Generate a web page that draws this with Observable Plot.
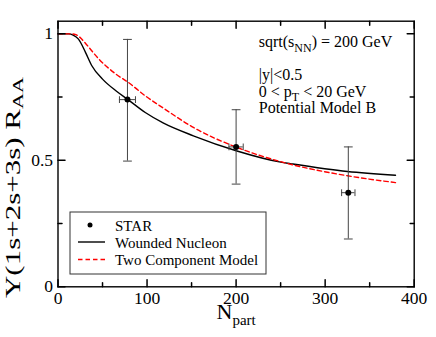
<!DOCTYPE html>
<html><head><meta charset="utf-8">
<script src="https://cdn.jsdelivr.net/npm/d3@7"></script>
<script src="https://cdn.jsdelivr.net/npm/@observablehq/plot@0.6"></script>
<style>html,body{margin:0;padding:0;background:#fff}#chart svg{display:block}</style>
</head><body><div id="chart"></div>
<script>
// STAR data points
const starNpart = [78, 200, 326];
const starRaa = [0.740, 0.553, 0.372];
const starLo = [0.497, 0.406, 0.189];
const starHi = [0.978, 0.700, 0.553];
const starNpartErr = [9, 8, 7.5];

// Wounded Nucleon curve
const wnNpart = [0, 12, 17, 23, 31, 38, 50, 65, 79, 98, 118, 152, 201, 250, 261, 325, 379];
const wnRaa   = [1.0, 1.0, 0.995, 0.979, 0.926, 0.874, 0.821, 0.775, 0.739, 0.689, 0.648, 0.597, 0.537, 0.493, 0.487, 0.456, 0.441];

// Two Component Model curve
const tcNpart = [0, 15, 20, 25, 31, 46, 65, 79, 98, 118, 152, 201, 255, 325, 379];
const tcRaa   = [1.0, 1.0, 0.997, 0.985, 0.962, 0.900, 0.841, 0.808, 0.755, 0.707, 0.630, 0.551, 0.490, 0.439, 0.412];

// Axis ticks
const xMajor = [0, 100, 200, 300, 400];
const xMinor = [50, 150, 250, 350];
const yMajor = [0, 0.5, 1];
const yMinor = [0.25, 0.75];

// Annotation text
const notes = ["sqrt(s_{NN}) = 200 GeV", "|y|<0.5", "0 < p_{T} < 20 GeV", "Potential Model B"];
const noteX = 226;
const noteY = [0.947, 0.814, 0.750, 0.687];

const legendLabels = ["STAR", "Wounded Nucleon", "Two Component Model"];

const star = starNpart.map((n, i) => ({n, r: starRaa[i], lo: starLo[i], hi: starHi[i], e: starNpartErr[i]}));
const wn = wnNpart.map((n, i) => ({n, r: wnRaa[i]}));
const tc = tcNpart.map((n, i) => ({n, r: tcRaa[i]}));

const FONT = "'Liberation Serif','Times New Roman',serif";
const line = {draw(ctx, l) { ctx.moveTo(0, 0); ctx.lineTo(0, -l); }};
const ebColor = "#444";

const chart = Plot.plot({
  width: 436, height: 337,
  marginLeft: 57.5, marginRight: 22.3, marginTop: 20.7, marginBottom: 50.7,
  style: {fontFamily: FONT, background: "#fff", color: "#000"},
  x: {domain: [0, 400], axis: null},
  y: {domain: [0, 1.05], axis: null},
  marks: [
    Plot.line(wn, {x: "n", y: "r", stroke: "#000", strokeWidth: 1.4, curve: "monotone-x"}),
    Plot.line(tc, {x: "n", y: "r", stroke: "#ff0000", strokeWidth: 1.4, strokeDasharray: "4.5,3", curve: "monotone-x"}),
    Plot.ruleX(star, {x: "n", y1: "lo", y2: "hi", stroke: ebColor, strokeWidth: 1}),
    Plot.vector(star, {x: "n", y: "lo", length: 8, rotate: 90, anchor: "middle", shape: line, stroke: ebColor, strokeWidth: 1}),
    Plot.vector(star, {x: "n", y: "hi", length: 8, rotate: 90, anchor: "middle", shape: line, stroke: ebColor, strokeWidth: 1}),
    Plot.ruleY(star, {y: "r", x1: d => d.n - d.e, x2: d => d.n + d.e, stroke: ebColor, strokeWidth: 1}),
    Plot.vector(star, {x: d => d.n - d.e, y: "r", length: 6, rotate: 0, anchor: "middle", shape: line, stroke: ebColor, strokeWidth: 1}),
    Plot.vector(star, {x: d => d.n + d.e, y: "r", length: 6, rotate: 0, anchor: "middle", shape: line, stroke: ebColor, strokeWidth: 1}),
    Plot.dot(star, {x: "n", y: "r", r: 3, fill: "#000", stroke: "none"}),
    // inward ticks on all four sides
    Plot.vector(xMajor, {x: d => d, frameAnchor: "bottom", length: 7, rotate: 0, anchor: "start", shape: line, stroke: "#000"}),
    Plot.vector(xMinor, {x: d => d, frameAnchor: "bottom", length: 4, rotate: 0, anchor: "start", shape: line, stroke: "#000"}),
    Plot.vector(xMajor, {x: d => d, frameAnchor: "top", length: 7, rotate: 180, anchor: "start", shape: line, stroke: "#000"}),
    Plot.vector(xMinor, {x: d => d, frameAnchor: "top", length: 4, rotate: 180, anchor: "start", shape: line, stroke: "#000"}),
    Plot.vector(yMajor, {y: d => d, frameAnchor: "left", length: 7, rotate: 90, anchor: "start", shape: line, stroke: "#000"}),
    Plot.vector(yMinor, {y: d => d, frameAnchor: "left", length: 4, rotate: 90, anchor: "start", shape: line, stroke: "#000"}),
    Plot.vector(yMajor, {y: d => d, frameAnchor: "right", length: 7, rotate: -90, anchor: "start", shape: line, stroke: "#000"}),
    Plot.vector(yMinor, {y: d => d, frameAnchor: "right", length: 4, rotate: -90, anchor: "start", shape: line, stroke: "#000"}),
    Plot.frame({stroke: "#000", strokeWidth: 1.4}),
    Plot.axisX(xMajor, {anchor: "bottom", tickSize: 0, tickPadding: 5, fontSize: 17.5, label: null, tickFormat: d => String(d), fill: "#000"}),
    Plot.axisY(yMajor, {anchor: "left", tickSize: 0, tickPadding: 5, fontSize: 17.5, label: null, tickFormat: d => String(d), fill: "#000"})
  ]
});

document.getElementById("chart").appendChild(chart);

const svg = d3.select(chart);
const sx = chart.scale("x"), sy = chart.scale("y");

function rich(textSel, str, subSize, shift) {
  const parts = str.split(/_\{([^}]*)\}/);
  let down = false;
  parts.forEach((p, i) => {
    if (!p) return;
    const t = textSel.append("tspan").text(p);
    if (i % 2 === 1) {
      t.attr("font-size", subSize).attr("dy", shift);
      down = true;
    } else if (down) {
      t.attr("dy", -shift);
      down = false;
    }
  });
}

// annotations
notes.forEach((s, i) => {
  const t = svg.append("text")
    .attr("x", sx.apply(noteX)).attr("y", sy.apply(noteY[i]))
    .attr("text-anchor", "start")
    .attr("font-family", FONT).attr("font-size", 16).attr("fill", "#000");
  rich(t, s, 12, i === 0 ? 5 : 4);
});

// axis labels
const xl = svg.append("text").attr("x", 216.5).attr("y", 319).attr("text-anchor", "start")
  .attr("font-family", FONT).attr("font-size", 22).attr("fill", "#000");
rich(xl, "N_{part}", 15, 6);

const yl = svg.append("text").attr("text-anchor", "start")
  .attr("font-family", FONT).attr("font-size", 21).attr("fill", "#000");
rich(yl, "\u03A5(1s+2s+3s) R_{AA}", 15, 3);
const yLen = yl.node().getComputedTextLength() || 160;
const yScale = 221 / yLen;
yl.attr("transform", `translate(19.5,298) rotate(-90) scale(${yScale},1)`);

// legend
const lg = svg.append("g").attr("font-family", FONT).attr("font-size", 15).attr("text-anchor", "start");
lg.append("rect").attr("x", 70).attr("y", 212).attr("width", 196).attr("height", 62)
  .attr("fill", "#fff").attr("stroke", "#333").attr("stroke-width", 1);
lg.append("circle").attr("cx", 90).attr("cy", 225).attr("r", 2.5).attr("fill", "#000");
lg.append("line").attr("x1", 78).attr("x2", 105).attr("y1", 242).attr("y2", 242).attr("stroke", "#000").attr("stroke-width", 1.4);
lg.append("line").attr("x1", 78).attr("x2", 105).attr("y1", 259.5).attr("y2", 259.5).attr("stroke", "#ff0000").attr("stroke-width", 1.4).attr("stroke-dasharray", "4.5,3");
legendLabels.forEach((s, i) => {
  lg.append("text").attr("x", 115).attr("y", [230.5, 247.5, 265][i]).attr("fill", "#000").text(s);
});
</script>
</body></html>
